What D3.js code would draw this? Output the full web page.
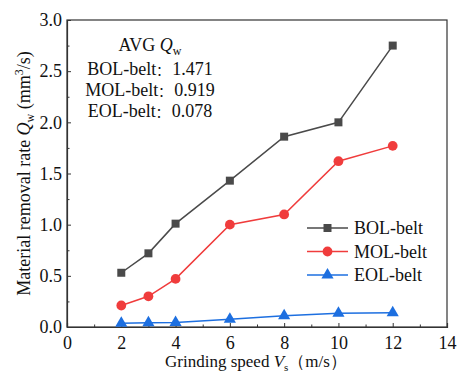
<!DOCTYPE html>
<html>
<head>
<meta charset="utf-8">
<script src="https://cdn.jsdelivr.net/npm/d3@7"></script>
<style>
  body { margin: 0; background: #fff; }
</style>
</head>
<body>
<script>
// Data
let speeds = [2, 3, 4, 6, 8, 10, 12];
let bolValues = [0.53, 0.72, 1.01, 1.43, 1.86, 2.00, 2.75];
let molValues = [0.21, 0.30, 0.47, 1.00, 1.10, 1.62, 1.77];
let eolValues = [0.036, 0.042, 0.045, 0.075, 0.11, 0.135, 0.14];
let seriesNames = ["BOL-belt", "MOL-belt", "EOL-belt"];
let avgValues = ["1.471", "0.919", "0.078"];
let xTicks = [0, 2, 4, 6, 8, 10, 12, 14];
let yTicks = [0, 0.5, 1.0, 1.5, 2.0, 2.5, 3.0];

const FONT = '"Liberation Serif", "Times New Roman", Times, "DejaVu Serif", serif';

function drawChart() {
  let width = 457;
  let height = 374;
  let margin = {left: 67, top: 20, right: 10, bottom: 47};

  let svg = d3.select("body")
    .append("svg")
    .attr("width", width)
    .attr("height", height)
    .style("font-family", FONT);

  let x = d3.scaleLinear().domain([0, 14]).range([margin.left, width - margin.right]);
  let y = d3.scaleLinear().domain([0, 3]).range([height - margin.bottom, margin.top]);

  // frame
  svg.append("rect")
    .attr("x", x(0)).attr("y", y(3))
    .attr("width", x(14) - x(0)).attr("height", y(0) - y(3))
    .attr("fill", "none").attr("stroke", "#333").attr("stroke-width", 1.2);

  // axes, ticks pointing in
  svg.append("g")
    .attr("transform", `translate(0,${y(0)})`)
    .call(d3.axisBottom(x).tickValues(xTicks).tickSize(-4).tickPadding(9).tickFormat(d3.format("d")));
  svg.append("g")
    .attr("transform", `translate(0,${y(0)})`)
    .call(d3.axisBottom(x).tickValues(d3.range(1, 14, 2)).tickSize(-2.5).tickFormat(""))
    .select(".domain").remove();

  svg.append("g")
    .attr("transform", `translate(${x(0)},0)`)
    .call(d3.axisLeft(y).tickValues(yTicks).tickSize(-4).tickPadding(5).tickFormat(d3.format(".1f")));
  svg.append("g")
    .attr("transform", `translate(${x(0)},0)`)
    .call(d3.axisLeft(y).tickValues(d3.range(0.25, 3, 0.5)).tickSize(-2.5).tickFormat(""))
    .select(".domain").remove();

  svg.selectAll("g").attr("font-family", null).attr("font-size", null);
  svg.selectAll(".tick line").attr("stroke", "#333");
  svg.selectAll(".domain").attr("stroke", "#333").attr("stroke-width", 1.2);
  svg.selectAll(".tick text")
    .style("font-family", FONT)
    .style("font-size", "18px")
    .attr("fill", "#111");

  // axis titles
  let xTitle = svg.append("text")
    .attr("x", 256).attr("y", 367)
    .attr("text-anchor", "middle")
    .style("font-size", "17px").attr("fill", "#111");
  xTitle.append("tspan").text("Grinding speed ");
  xTitle.append("tspan").attr("font-style", "italic").text("V");
  xTitle.append("tspan").style("font-size", "11px").attr("dy", 4).text("s");
  xTitle.append("tspan").attr("dy", -4).text("（m/s）");

  let yTitle = svg.append("text")
    .attr("transform", `translate(30,${(y(0) + y(3)) / 2}) rotate(-90)`)
    .attr("text-anchor", "middle")
    .style("font-size", "18px").attr("fill", "#111");
  yTitle.append("tspan").text("Material removal rate ");
  yTitle.append("tspan").attr("font-style", "italic").text("Q");
  yTitle.append("tspan").style("font-size", "12px").attr("dy", 4).text("w");
  yTitle.append("tspan").attr("dy", -4).text(" (mm");
  yTitle.append("tspan").style("font-size", "12px").attr("dy", -7).text("3");
  yTitle.append("tspan").attr("dy", 7).text("/s)");

  // series
  let series = [
    {name: seriesNames[0], values: bolValues, color: "#4a4a4a", symbol: d3.symbolSquare, size: 64},
    {name: seriesNames[1], values: molValues, color: "#f03c3c", symbol: d3.symbolCircle, size: 75},
    {name: seriesNames[2], values: eolValues, color: "#1d6fe0", symbol: d3.symbolTriangle, size: 64}
  ];

  let line = d3.line()
    .x((d, i) => x(speeds[i]))
    .y(d => y(d));

  for (let s of series) {
    svg.append("path")
      .attr("d", line(s.values))
      .attr("fill", "none")
      .attr("stroke", s.color)
      .attr("stroke-width", 1.5);
    svg.selectAll(null)
      .data(s.values)
      .enter()
      .append("path")
      .attr("d", d3.symbol().type(s.symbol).size(s.size))
      .attr("transform", (d, i) => `translate(${x(speeds[i])},${y(d)})`)
      .attr("fill", s.color);
  }

  // legend
  series.forEach((s, i) => {
    let ly = 228 + i * 23.5;
    svg.append("line")
      .attr("x1", 307).attr("x2", 348)
      .attr("y1", ly).attr("y2", ly)
      .attr("stroke", s.color).attr("stroke-width", 1.5);
    svg.append("path")
      .attr("d", d3.symbol().type(s.symbol).size(s.size))
      .attr("transform", `translate(327.5,${ly})`)
      .attr("fill", s.color);
    svg.append("text")
      .attr("x", 354).attr("y", ly + 6)
      .style("font-size", "18px").attr("fill", "#111")
      .text(s.name);
  });

  // average annotation
  let avg = svg.append("text")
    .attr("x", 150).attr("y", 51)
    .attr("text-anchor", "middle")
    .style("font-size", "18px").attr("fill", "#111");
  avg.append("tspan").text("AVG ");
  avg.append("tspan").attr("font-style", "italic").text("Q");
  avg.append("tspan").style("font-size", "12px").attr("dy", 4).text("w");

  seriesNames.forEach((name, i) => {
    let t = svg.append("text")
      .attr("x", 150).attr("y", 75 + i * 21)
      .attr("text-anchor", "middle")
      .style("font-size", "18px").attr("fill", "#111");
    t.append("tspan").text(name);
    t.append("tspan").style("font-family", '"Noto Sans CJK SC"').style("font-size", "13px").text("：");
    t.append("tspan").attr("dx", 3).text(avgValues[i]);
  });
}

drawChart();
</script>
</body>
</html>
